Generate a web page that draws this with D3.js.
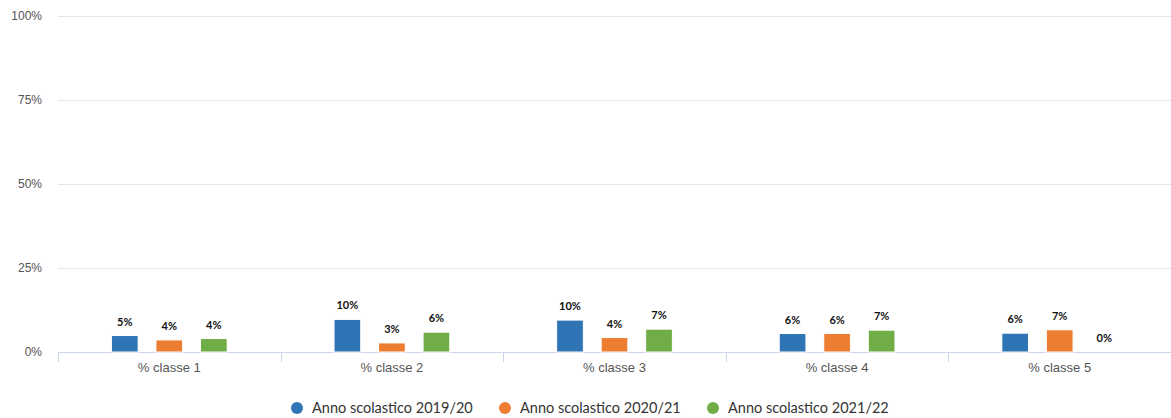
<!doctype html>
<html>
<head>
<meta charset="utf-8">
<title>Classi</title>
<style>
  body { margin: 0; background: #fff; }
  #chart svg { display: block; font-family: Lato, "Open Sans", sans-serif; }
</style>
</head>
<body>
<div id="chart"></div>
<script src="https://d3js.org/d3.v7.min.js"></script>
<script>
var categories = ["% classe 1", "% classe 2", "% classe 3", "% classe 4", "% classe 5"];
var seriesNames = ["Anno scolastico 2019/20", "Anno scolastico 2020/21", "Anno scolastico 2021/22"];
var serie1920 = [4.9, 9.7, 9.5, 5.5, 5.6];
var serie2021 = [3.6, 2.7, 4.3, 5.5, 6.6];
var serie2122 = [4.0, 5.9, 6.8, 6.5, 0];
var yTicks = [0, 25, 50, 75, 100];
var colors = ["#2f75b5", "#ed7d31", "#70ad47"];

var w = 1171, h = 418;
var margin = {top: 16, right: 0, bottom: 66, left: 58};
var pw = w - margin.left - margin.right;
var ph = h - margin.top - margin.bottom;

var values = [serie1920, serie2021, serie2122];

var svg = d3.select("#chart").append("svg").attr("width", w).attr("height", h);
var g = svg.append("g").attr("transform", "translate(" + margin.left + "," + margin.top + ")");

var y = d3.scaleLinear().domain([0, 100]).range([ph, 0]);
var x0 = d3.scaleBand().domain(categories).range([0, pw]).padding(0);
// group takes the middle 60% of each band
var x1 = d3.scaleBand().domain(d3.range(seriesNames.length))
    .range([x0.bandwidth() * 0.2, x0.bandwidth() * 0.8])
    .paddingInner(0.4).paddingOuter(0.2);

// grid lines
g.append("g").selectAll("line").data(yTicks.filter(function(d){ return d > 0; })).enter()
  .append("line")
  .attr("x1", 0).attr("x2", pw)
  .attr("y1", function(d){ return Math.round(y(d)) + 0.5; })
  .attr("y2", function(d){ return Math.round(y(d)) + 0.5; })
  .attr("stroke", "#e6e6e6");

// y labels
var yAxis = d3.axisLeft(y).tickValues(yTicks).tickSize(0).tickPadding(16)
    .tickFormat(function(d){ return d + "%"; });
var ya = g.append("g").call(yAxis);
ya.select(".domain").remove();
ya.selectAll("text").attr("fill", "#555").style("font-size", "12px").attr("font-family", null);

// x axis
var xAxis = d3.axisBottom(x0).tickSize(0).tickPadding(11);
var xa = g.append("g").attr("transform", "translate(0," + ph + ")").call(xAxis);
xa.select(".domain").remove();
xa.selectAll("text").attr("fill", "#555").style("font-size", "13px").attr("font-family", null);
xa.append("line").attr("x1", 0).attr("x2", pw).attr("y1", 0.5).attr("y2", 0.5).attr("stroke", "#ccd6eb");
xa.selectAll("line.tk").data(categories).enter().append("line").attr("class", "tk")
  .attr("x1", function(d){ return Math.round(x0(d)) + 0.5; })
  .attr("x2", function(d){ return Math.round(x0(d)) + 0.5; })
  .attr("y1", 0).attr("y2", 10).attr("stroke", "#ccd6eb");

// bars
var groups = g.append("g").selectAll("g").data(categories).enter().append("g")
  .attr("transform", function(d){ return "translate(" + x0(d) + ",0)"; });

var cells = groups.selectAll("g").data(function(d, ci){
    return values.map(function(s, si){ return {s: si, v: s[ci]}; });
  }).enter().append("g");

cells.append("rect")
  .attr("x", function(d){ return x1(d.s); })
  .attr("width", x1.bandwidth())
  .attr("y", function(d){ return y(d.v); })
  .attr("height", function(d){ return ph - y(d.v); })
  .attr("fill", function(d){ return colors[d.s]; })
  .attr("stroke", "#fff").attr("stroke-width", 1);

cells.append("text")
  .attr("x", function(d){ return x1(d.s) + x1.bandwidth() / 2; })
  .attr("y", function(d){ return y(d.v) - 10; })
  .attr("text-anchor", "middle")
  .style("font-size", "11px").style("font-weight", "bold")
  .attr("fill", "#111")
  .attr("stroke", "#fff").attr("stroke-width", 2).attr("paint-order", "stroke")
  .text(function(d){ return Math.round(d.v) + "%"; });

// legend
var legend = svg.append("g").attr("transform", "translate(0,408)");
var items = legend.selectAll("g").data(seriesNames).enter().append("g")
  .attr("transform", function(d, i){ return "translate(" + (297 + i * 208) + ",0)"; });
items.append("circle").attr("r", 6).attr("fill", function(d, i){ return colors[i]; });
items.append("text").attr("x", 15).attr("dy", "0.35em")
  .style("font-size", "14.5px").attr("fill", "#333").text(function(d){ return d; });
</script>
</body>
</html>
